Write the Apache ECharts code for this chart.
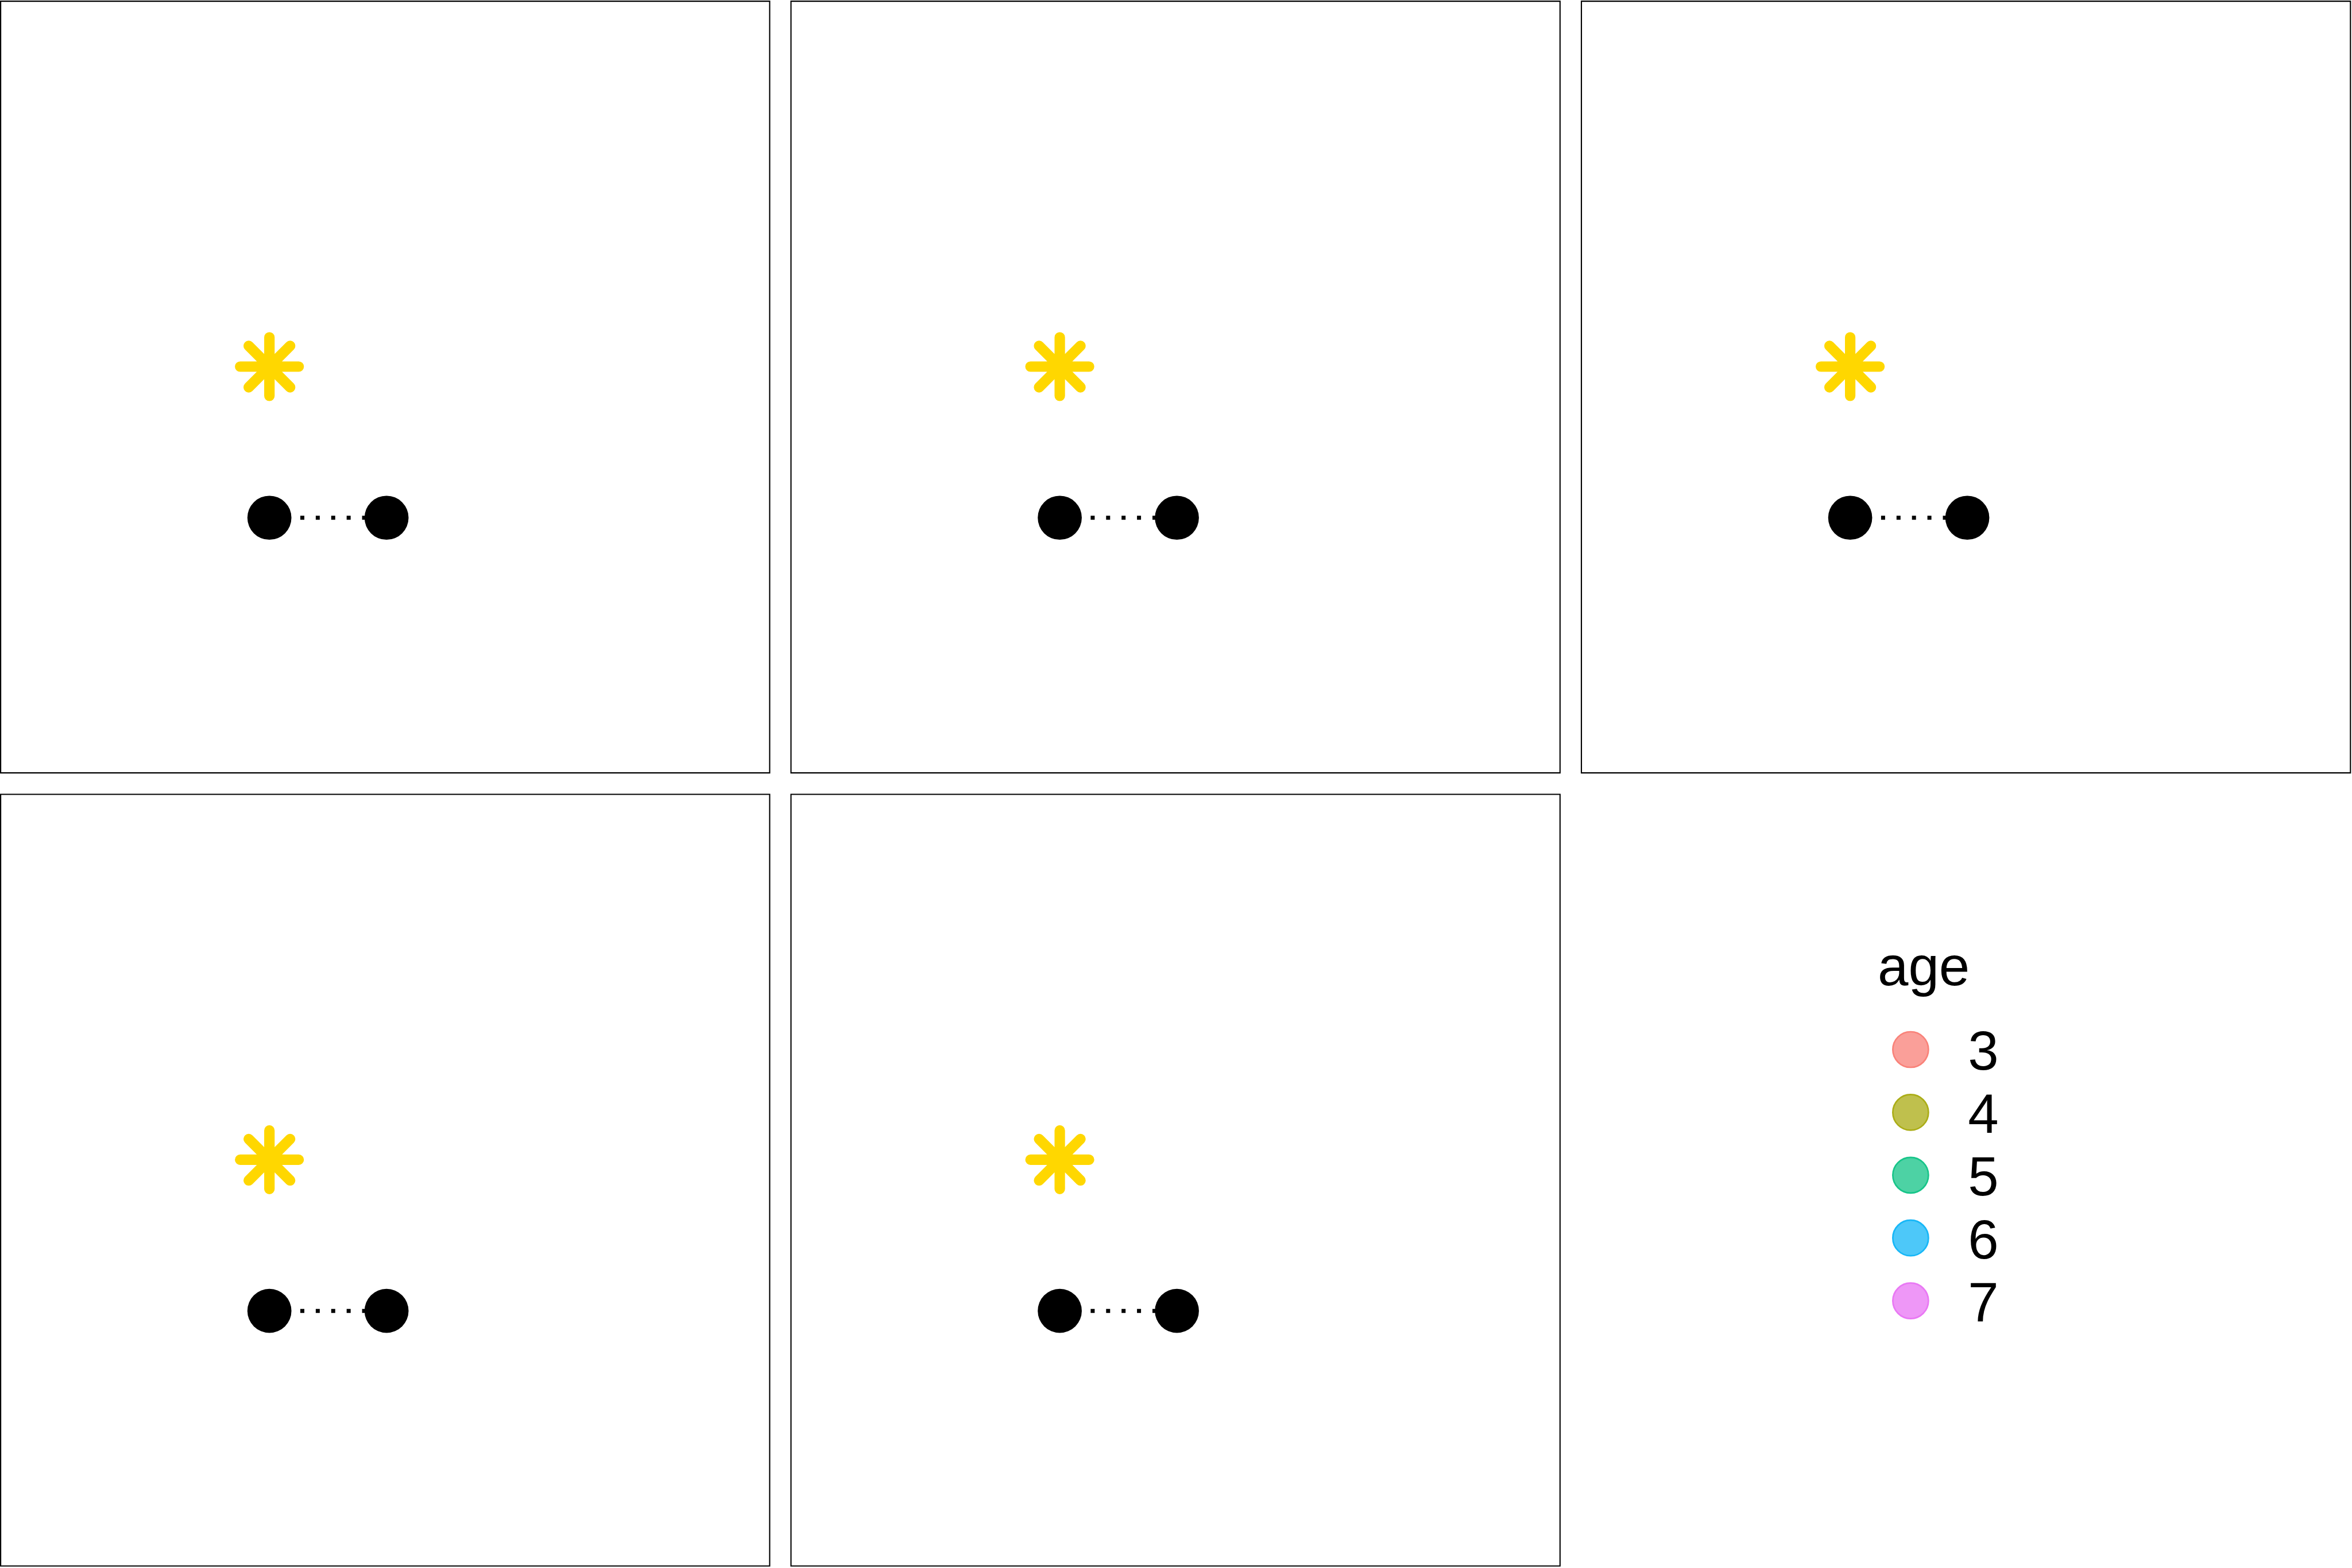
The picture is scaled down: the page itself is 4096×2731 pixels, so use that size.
<!DOCTYPE html>
<html>
<head>
<meta charset="utf-8">
<script src="https://cdn.jsdelivr.net/npm/echarts@6/dist/echarts.min.js"></script>
<style>
html,body{margin:0;padding:0;background:#fff;}
#chart{width:4096px;height:2731px;}
</style>
</head>
<body>
<div id="chart"></div>
<script>
// ---- data ----
const facets = ['p1', 'p2', 'p3', 'p4', 'p5'];
const starX = [34.95];
const starY = [52.65];
const dotX = [34.95, 50.18];
const dotY = [33.06, 33.06];
const ageLevels = ['3', '4', '5', '6', '7'];
const ageFill = ['#FA9F99', '#BFC04D', '#4DD2A4', '#4DC8F9', '#EE97F7'];
const ageStroke = ['#F98279', '#ABAD17', '#17C589', '#17B7F7', '#E978F4'];
const legendTitle = 'age';

// ---- layout (px) ----
const panelW = 1339.3, panelH = 1344;
const lefts = [1.1, 1377.5, 2754];
const tops = [2.1, 1383.5];

const grids = [], xAxes = [], yAxes = [], series = [];
const asteriskPath = 'path://M0,-1L0,1M-1,0L1,0M-0.70711,-0.70711L0.70711,0.70711M-0.70711,0.70711L0.70711,-0.70711';
// legend key: circle sitting a little above the label's centre line
const keyPath = 'path://M1,2.58M0,1A1,1 0 1,0 2,1A1,1 0 1,0 0,1Z';

facets.forEach((f, i) => {
  const col = i % 3, row = Math.floor(i / 3);
  grids.push({
    left: lefts[col], top: tops[row], width: panelW, height: panelH,
    show: true, borderColor: '#000', borderWidth: 2.1, backgroundColor: 'transparent'
  });
  xAxes.push({ gridIndex: i, type: 'value', min: 0, max: 100, show: false });
  yAxes.push({ gridIndex: i, type: 'value', min: 0, max: 100, show: false });
  series.push({
    type: 'line', xAxisIndex: i, yAxisIndex: i, silent: true, z: 2,
    data: dotX.map((x, k) => [x, dotY[k]]),
    symbol: 'none',
    lineStyle: { color: '#000', width: 7.0, type: [7.0, 19.9], cap: 'butt' }
  });
  series.push({
    type: 'scatter', xAxisIndex: i, yAxisIndex: i, silent: true, z: 3,
    data: dotX.map((x, k) => [x, dotY[k]]),
    symbol: 'circle', symbolSize: 76.7,
    itemStyle: { color: '#000', opacity: 1 }
  });
  series.push({
    type: 'scatter', xAxisIndex: i, yAxisIndex: i, silent: true, z: 3,
    data: starX.map((x, k) => [x, starY[k]]),
    symbol: asteriskPath, symbolSize: 102,
    itemStyle: { color: 'rgba(0,0,0,0)', borderColor: '#FFD700', borderWidth: 18.2, borderCap: 'round', borderJoin: 'round', opacity: 1 }
  });
});

ageLevels.forEach((a, k) => {
  series.push({
    type: 'scatter', name: a, xAxisIndex: 0, yAxisIndex: 0, data: [],
    symbol: 'circle',
    itemStyle: { color: ageFill[k], borderColor: ageStroke[k], borderWidth: 2.7, opacity: 1 }
  });
});

const option = {
  backgroundColor: '#fff',
  animation: false,
  title: {
    text: legendTitle, left: 3270, top: 1641.5, padding: 0,
    textStyle: { fontFamily: 'Liberation Sans', fontSize: 96, fontWeight: 'normal', color: '#000', lineHeight: 96 }
  },
  legend: {
    orient: 'vertical', align: 'left', left: 3290, top: 1784, padding: 5,
    data: ageLevels.map((a, k) => ({
      name: a, icon: keyPath,
      itemStyle: { color: ageFill[k], borderColor: ageStroke[k], borderWidth: 2.7, opacity: 1 }
    })),
    itemWidth: 62, itemHeight: 80, itemGap: 13.4,
    selectedMode: false,
    textStyle: { fontFamily: 'Liberation Sans', fontSize: 96, color: '#000', padding: [0, 0, 0, 64] }
  },
  grid: grids,
  xAxis: xAxes,
  yAxis: yAxes,
  series: series
};

const chart = echarts.init(document.getElementById('chart'), null, { renderer: 'canvas' });
chart.setOption(option);
</script>
</body>
</html>
